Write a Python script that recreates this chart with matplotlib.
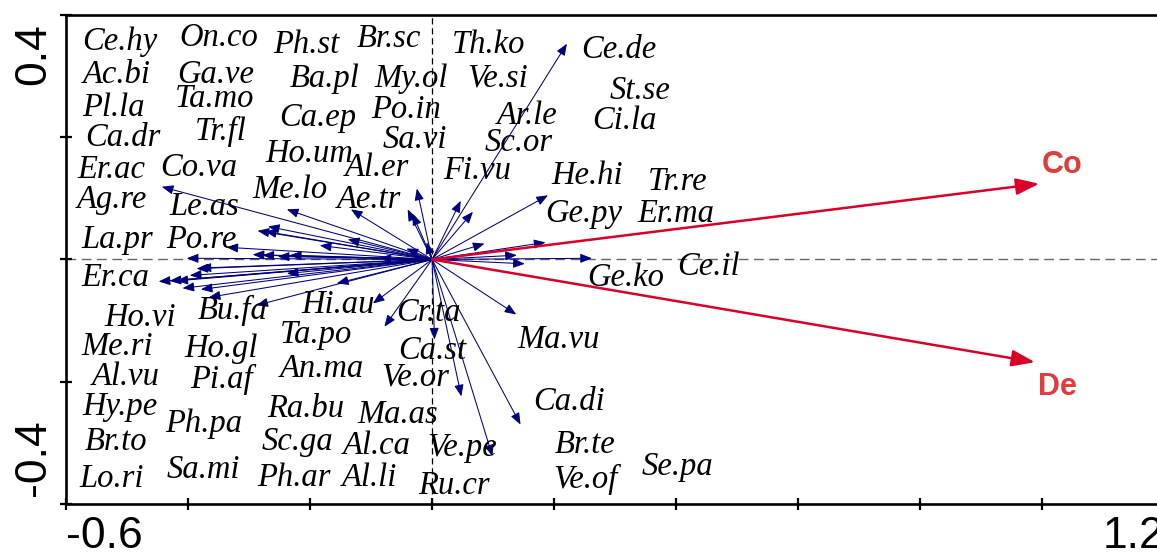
import matplotlib.pyplot as plt
from matplotlib.transforms import ScaledTranslation

# species arrow tips (axis 1, axis 2)
sp_x = [-0.443, -0.238, -0.133, -0.269, -0.286, -0.274, -0.337, -0.138, -0.184, -0.042,
        -0.294, -0.278, -0.253, -0.233, -0.402, -0.386, -0.448, -0.430, -0.419, -0.409,
        -0.379, -0.366, -0.288, -0.238, -0.156, -0.097, -0.078, -0.086, -0.397, -0.381,
        -0.025, -0.040, -0.032, -0.009, 0.221, 0.047, 0.067, 0.190, 0.186, 0.086,
        0.139, 0.152, 0.262, 0.138, 0.004, 0.048, 0.099, 0.145]
sp_y = [0.119, 0.082, 0.082, 0.054, 0.047, 0.046, 0.020, 0.033, 0.023, 0.018,
        0.008, 0.007, 0.005, 0.007, 0.002, -0.015, -0.036, -0.035, -0.035, -0.047,
        -0.049, -0.062, -0.075, -0.023, -0.039, -0.072, -0.110, 0.002, -0.026, -0.014,
        0.116, 0.082, 0.075, 0.028, 0.353, 0.096, 0.078, 0.105, 0.028, 0.026,
        0.007, -0.007, 0.002, -0.090, -0.131, -0.224, -0.322, -0.270]

# species labels as placed on the plot
sp_names = ["Ce.hy", "On.co", "Ph.st", "Br.sc", "Th.ko", "Ce.de",
            "Ac.bi", "Ga.ve", "Ba.pl", "My.ol", "Ve.si", "St.se",
            "Pl.la", "Ta.mo", "Ca.ep", "Po.in", "Ar.le", "Ci.la",
            "Ca.dr", "Tr.fl", "Sa.vi", "Sc.or",
            "Ho.um", "Er.ac", "Co.va", "Al.er", "Fi.vu", "He.hi", "Tr.re",
            "Me.lo", "Ag.re", "Le.as", "Ae.tr", "Ge.py", "Er.ma",
            "La.pr", "Po.re", "Er.ca", "Ge.ko", "Ce.il",
            "Ho.vi", "Bu.fa", "Hi.au", "Cr.ta", "Ta.po", "Ma.vu",
            "Me.ri", "Ho.gl", "Ca.st", "An.ma", "Ve.or", "Al.vu", "Pi.af",
            "Hy.pe", "Ra.bu", "Ma.as", "Ca.di", "Ph.pa",
            "Br.to", "Sc.ga", "Al.ca", "Ve.pe", "Br.te", "Se.pa",
            "Lo.ri", "Sa.mi", "Ph.ar", "Al.li", "Ru.cr", "Ve.of"]
lab_x = [-0.573, -0.414, -0.261, -0.123, 0.032, 0.245,
         -0.573, -0.417, -0.233, -0.094, 0.057, 0.291,
         -0.573, -0.422, -0.250, -0.099, 0.106, 0.262,
         -0.569, -0.389, -0.081, 0.086,
         -0.274, -0.581, -0.446, -0.143, 0.018, 0.196, 0.354,
         -0.294, -0.583, -0.430, -0.156, 0.185, 0.336,
         -0.574, -0.435, -0.574, 0.255, 0.401,
         -0.537, -0.384, -0.214, -0.058, -0.250, 0.140,
         -0.574, -0.406, -0.056, -0.250, -0.083, -0.558, -0.397,
         -0.573, -0.271, -0.122, 0.165, -0.438,
         -0.569, -0.279, -0.147, -0.007, 0.201, 0.343,
         -0.578, -0.435, -0.286, -0.148, -0.023, 0.198]
lab_y = [0.342, 0.350, 0.337, 0.347, 0.337, 0.329,
         0.288, 0.289, 0.283, 0.283, 0.283, 0.263,
         0.235, 0.249, 0.219, 0.231, 0.222, 0.214,
         0.186, 0.195, 0.183, 0.178,
         0.159, 0.134, 0.136, 0.137, 0.132, 0.124, 0.113,
         0.101, 0.085, 0.072, 0.085, 0.061, 0.061,
         0.018, 0.018, -0.043, -0.043, -0.026,
         -0.108, -0.098, -0.087, -0.100, -0.136, -0.144,
         -0.157, -0.160, -0.162, -0.193, -0.206, -0.206, -0.211,
         -0.255, -0.257, -0.268, -0.247, -0.283,
         -0.312, -0.312, -0.319, -0.322, -0.317, -0.353,
         -0.373, -0.357, -0.371, -0.371, -0.383, -0.374]

# environmental variables
env_names = ["Co", "De"]
env_x = [0.995, 0.988]
env_y = [0.124, -0.168]
env_lab_x = [0.9995, 0.993]
env_lab_y = [0.141, -0.222]

fig = plt.figure(figsize=(11.57, 5.55), dpi=100)
ax = fig.add_axes([0.0570, 0.0919, 0.9493, 0.8811])
ax.set_xlim(-0.6, 1.2)
ax.set_ylim(-0.4, 0.4)

ax.axhline(0, color="#666666", lw=1.0, ls=(0, (7, 4)), zorder=1)
ax.axvline(0, color="black", lw=0.9, ls=(0, (5, 3)), zorder=1)

for x, y in zip(sp_x, sp_y):
    ax.annotate("", xy=(x, y), xytext=(0, 0),
                arrowprops=dict(arrowstyle="-|>,head_length=0.5,head_width=0.2",
                                color="#00007f", lw=0.75, mutation_scale=14,
                                shrinkA=0, shrinkB=0), zorder=3)

for x, y in zip(env_x, env_y):
    ax.annotate("", xy=(x, y), xytext=(0, 0),
                arrowprops=dict(arrowstyle="-|>,head_length=0.7,head_width=0.25",
                                color="#dc0028", lw=1.8, mutation_scale=20,
                                shrinkA=0, shrinkB=0), zorder=4)

for name, x, y in zip(sp_names, lab_x, lab_y):
    ax.text(x, y, name, family="Liberation Serif", style="italic", fontsize=23.5,
            ha="left", va="baseline", zorder=5)

for name, x, y in zip(env_names, env_lab_x, env_lab_y):
    ax.text(x, y, name, family="Liberation Sans", weight="bold", fontsize=22,
            color="#e03c3c", ha="left", va="baseline", zorder=5)

for side in ["left", "bottom", "top"]:
    ax.spines[side].set_linewidth(1.9)
ax.spines["right"].set_visible(False)

xt = [-0.6, -0.4, -0.2, 0.0, 0.2, 0.4, 0.6, 0.8, 1.0, 1.2]
yt = [-0.4, -0.2, 0.0, 0.2, 0.4]
ax.set_xticks(xt)
ax.set_yticks(yt)
ax.set_xticklabels(["-0.6"] + [""] * 8 + ["1.2"])
ax.set_yticklabels(["-0.4", "", "", "", "0.4"])
ax.tick_params(direction="inout", length=9, width=1.6, labelsize=32, pad=4)
for lab in ax.get_xticklabels() + ax.get_yticklabels():
    lab.set_family("Liberation Sans")
xl = ax.get_xticklabels()
xl[0].set_ha("left")
xl[-1].set_ha("right")
yl = ax.get_yticklabels()
for lab in yl:
    lab.set_rotation(90)
    lab.set_ha("right")
yl[0].set_va("bottom")
yl[-1].set_va("top")
# small inward shift of the end labels, as in the original
yl[0].set_transform(yl[0].get_transform() + ScaledTranslation(0, 6 / 72, fig.dpi_scale_trans))
yl[-1].set_transform(yl[-1].get_transform() + ScaledTranslation(0, -6 / 72, fig.dpi_scale_trans))

fig.savefig("out.png", dpi=100)
